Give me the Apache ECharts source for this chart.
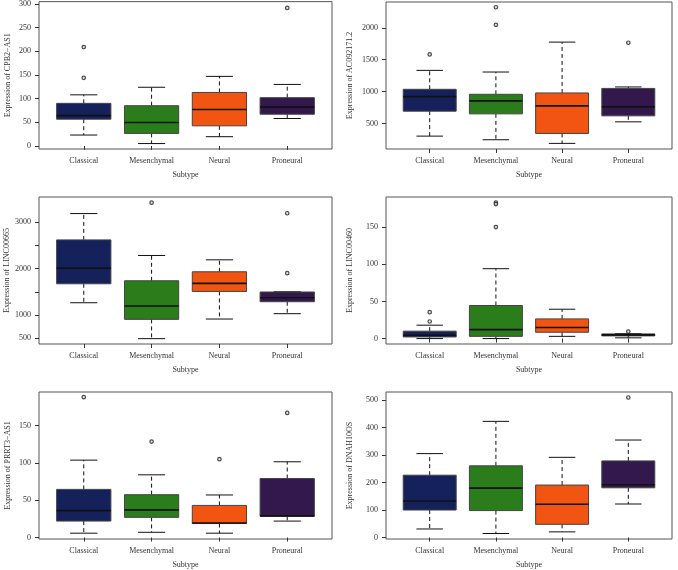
<!DOCTYPE html>
<html lang="en">
<head>
<meta charset="utf-8">
<script src="https://cdn.jsdelivr.net/npm/echarts@6/dist/echarts.min.js"></script>
</head>
<body style="margin:0; background:#fff;">
<div id="chart" style="width:678px; height:570px;"></div>
<script type="text/javascript">

// subtypes (x categories)
var subtypes = ['Classical', 'Mesenchymal', 'Neural', 'Proneural'];
var boxColors = ['#14215a', '#2b7c1a', '#f25411', '#33184e'];

// each row: [lower whisker, Q1, median, Q3, upper whisker]
var cpb2Stats = [[23, 56.5, 64, 90, 108], [5, 26.5, 49.5, 85, 124], [19.5, 42.5, 77, 113, 147], [58, 67, 82, 102, 130]];
var cpb2Outliers = [[209, 144], [], [], [291.6]];
var cpb2Ticks = [0, 50, 100, 150, 200, 250, 300];

var ac09Stats = [[302, 693, 922, 1036, 1333], [245, 651, 854, 958, 1307], [188, 344, 776, 979, 1776], [526, 620, 760, 1050, 1073]];
var ac09Outliers = [[1583], [2323, 2047], [], [1766]];
var ac09Ticks = [500, 1000, 1500, 2000];

var linc665Stats = [[1264, 1671, 2007, 2614, 3179], [493, 907, 1193, 1736, 2279], [914, 1507, 1679, 1929, 2186], [1029, 1286, 1371, 1495, 1500]];
var linc665Outliers = [[], [3414], [], [3186, 1900]];
var linc665Ticks = [500, 1000, 1500, 2000, 2500, 3000];
var linc665Labels = [500, 1000, 2000, 3000];

var linc460Stats = [[0, 2.2, 4.5, 10, 18], [0, 3, 12, 44.5, 94], [3, 8.5, 15, 26.5, 39.5], [1, 3.6, 5, 6.3, 6.7]];
var linc460Outliers = [[35.5, 23], [183, 181, 150], [], [9.4]];
var linc460Ticks = [0, 50, 100, 150];

var prrt3Stats = [[5.8, 22, 36, 64.5, 103.7], [7, 27, 37, 57.4, 84], [5.8, 18.7, 19.5, 43, 57], [22, 28.5, 29, 79, 101.5]];
var prrt3Outliers = [[188], [128.6], [105], [167]];
var prrt3Ticks = [0, 50, 100, 150];

var dnahStats = [[31, 100, 133, 227, 305.6], [14.5, 98, 180, 261, 423], [20.5, 48, 121, 191, 292], [122, 181, 192, 279, 355]];
var dnahOutliers = [[], [], [], [510]];
var dnahTicks = [0, 100, 200, 300, 400, 500];

// panel layout
var panels = [
	{stats: cpb2Stats, outliers: cpb2Outliers, ticks: cpb2Ticks, labels: cpb2Ticks, yName: 'Expression of CPB2\u2212AS1',
		min: -6.5, max: 305, grid: {left: 39, top: 1, width: 293, height: 148}, nameGap: 27},
	{stats: ac09Stats, outliers: ac09Outliers, ticks: ac09Ticks, labels: ac09Ticks, yName: 'Expression of AC092171.2',
		min: 100, max: 2405, grid: {left: 386, top: 2, width: 286, height: 147}, nameGap: 32},
	{stats: linc665Stats, outliers: linc665Outliers, ticks: linc665Ticks, labels: linc665Labels, yName: 'Expression of LINC00665',
		min: 378, max: 3535, grid: {left: 39, top: 197, width: 293, height: 147}, nameGap: 27},
	{stats: linc460Stats, outliers: linc460Outliers, ticks: linc460Ticks, labels: linc460Ticks, yName: 'Expression of LINC00460',
		min: -7.3, max: 190.5, grid: {left: 386, top: 197, width: 286, height: 147}, nameGap: 32},
	{stats: prrt3Stats, outliers: prrt3Outliers, ticks: prrt3Ticks, labels: prrt3Ticks, yName: 'Expression of PRRT3\u2212AS1',
		min: -2, max: 195, grid: {left: 39, top: 392, width: 293, height: 148}, nameGap: 27},
	{stats: dnahStats, outliers: dnahOutliers, ticks: dnahTicks, labels: dnahTicks, yName: 'Expression of DNAH10OS',
		min: -5.5, max: 530, grid: {left: 386, top: 392, width: 286, height: 148}, nameGap: 32}
];

var fontFam = 'Liberation Serif';
var textColor = '#333';

function renderBox(params, api) {
	var x = api.value(0);
	var lo = api.coord([x, api.value(1)]);
	var q1 = api.coord([x, api.value(2)]);
	var md = api.coord([x, api.value(3)]);
	var q3 = api.coord([x, api.value(4)]);
	var hi = api.coord([x, api.value(5)]);
	var w = api.size([0.8, 0])[0];
	var cx = lo[0];
	var dashStyle = {stroke: '#111', lineWidth: 1, lineDash: [4, 3]};
	var solid = {stroke: '#111', lineWidth: 1};
	return {
		type: 'group',
		children: [
			{type: 'line', shape: {x1: cx, y1: q3[1], x2: cx, y2: hi[1]}, style: dashStyle},
			{type: 'line', shape: {x1: cx, y1: q1[1], x2: cx, y2: lo[1]}, style: dashStyle},
			{type: 'line', shape: {x1: cx - w / 4, y1: hi[1], x2: cx + w / 4, y2: hi[1]}, style: solid},
			{type: 'line', shape: {x1: cx - w / 4, y1: lo[1], x2: cx + w / 4, y2: lo[1]}, style: solid},
			{type: 'rect', shape: {x: cx - w / 2, y: q3[1], width: w, height: q1[1] - q3[1]},
				style: {fill: boxColors[params.dataIndex], stroke: '#444', lineWidth: 1}},
			{type: 'line', shape: {x1: cx - w / 2, y1: md[1], x2: cx + w / 2, y2: md[1]}, style: {stroke: '#111', lineWidth: 1.6}}
		]
	};
}

var grids = [], xAxes = [], yAxes = [], series = [];
var catPos = subtypes.map(function (s, i) { return i + 1; });

panels.forEach(function (p, k) {
	grids.push({
		left: p.grid.left, top: p.grid.top, width: p.grid.width, height: p.grid.height,
		show: true, borderColor: '#555', borderWidth: 1, backgroundColor: 'transparent'
	});
	xAxes.push({
		gridIndex: k, type: 'value', min: 0.34, max: 4.66,
		name: 'Subtype', nameLocation: 'middle', nameGap: 22,
		nameTextStyle: {fontFamily: fontFam, fontSize: 8, color: textColor},
		axisLine: {show: false},
		splitLine: {show: false},
		axisTick: {show: true, length: 4, customValues: catPos, lineStyle: {color: '#333'}},
		axisLabel: {customValues: catPos, margin: 8, fontFamily: fontFam, fontSize: 8, color: textColor,
			formatter: function (v) { return subtypes[Math.round(v) - 1]; }}
	});
	yAxes.push({
		gridIndex: k, type: 'value', min: p.min, max: p.max,
		name: p.yName, nameLocation: 'middle', nameGap: p.nameGap,
		nameTextStyle: {fontFamily: fontFam, fontSize: 8, color: textColor},
		axisLine: {show: false},
		splitLine: {show: false},
		axisTick: {show: true, length: 4, customValues: p.ticks, lineStyle: {color: '#333'}},
		axisLabel: {customValues: p.labels, margin: 8, fontFamily: fontFam, fontSize: 8, color: textColor,
			formatter: function (v) { return String(v); }}
	});
	series.push({
		type: 'custom',
		xAxisIndex: k, yAxisIndex: k,
		renderItem: renderBox,
		encode: {x: 0, y: [1, 2, 3, 4, 5]},
		data: p.stats.map(function (s, i) { return [i + 1].concat(s); })
	});
	var pts = [];
	p.outliers.forEach(function (list, i) {
		list.forEach(function (v) { pts.push([i + 1, v]); });
	});
	series.push({
		type: 'scatter',
		xAxisIndex: k, yAxisIndex: k,
		symbol: 'circle', symbolSize: 3.5,
		itemStyle: {color: '#ddd', borderColor: '#222', borderWidth: 1.2},
		data: pts
	});
});

var option = {
	backgroundColor: '#fff',
	animation: false,
	grid: grids,
	xAxis: xAxes,
	yAxis: yAxes,
	series: series
};

var myChart = echarts.init(document.getElementById('chart'));
myChart.setOption(option);

</script>
</body>
</html>
